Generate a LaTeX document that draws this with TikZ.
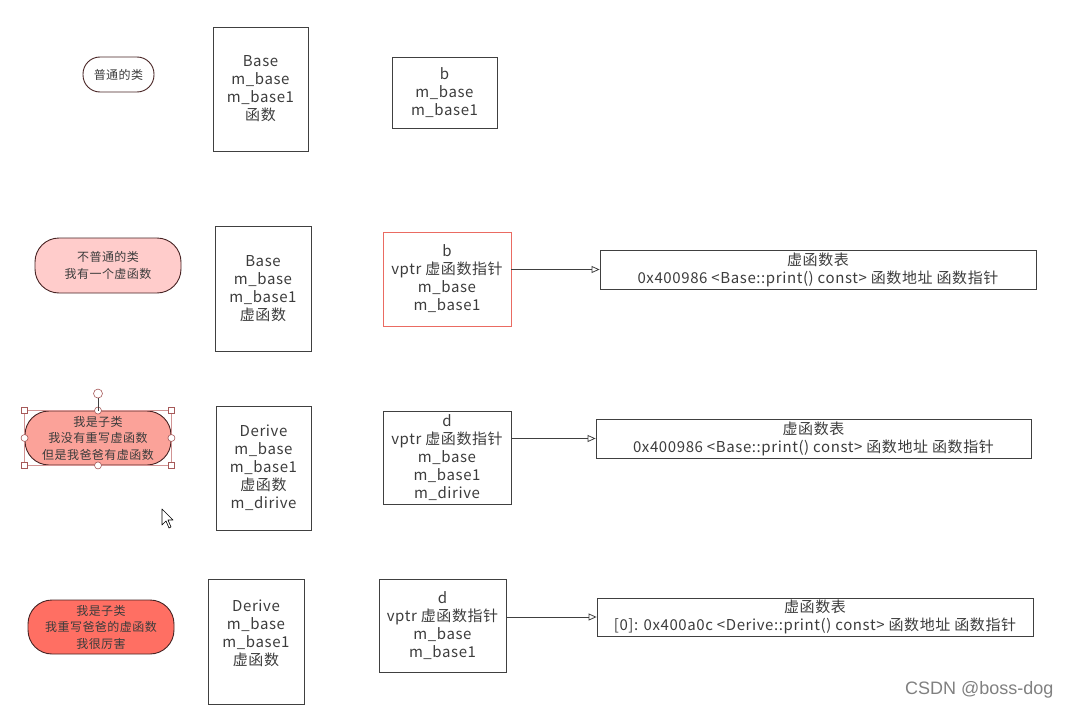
\documentclass[tikz,border=0pt]{standalone}
\usepackage{fontspec}
\setmainfont{Noto Sans CJK SC}[LetterSpace=4]
\newfontfamily\markfont{Liberation Sans}
\usepackage{tikz}
\usetikzlibrary{arrows.meta}
\definecolor{txt}{HTML}{3C3C3C}
\definecolor{edge}{HTML}{404040}
\definecolor{pinkA}{HTML}{FFCCCB}
\definecolor{pinkB}{HTML}{FBA299}
\definecolor{pinkC}{HTML}{FF6F63}
\definecolor{redline}{HTML}{EA6B62}
\tikzset{
  clsbox/.style={draw=edge, line width=0.8pt, align=center, inner sep=0pt, text=txt,
    font=\fontsize{15}{18}\selectfont},
  boxtext/.style={align=center, inner sep=0pt, text=txt, font=\fontsize{15}{18}\selectfont},
  pill/.style={draw=edge!80!red!70!black, line width=0.9pt, rounded corners=24pt, align=center,
    inner sep=0pt, text=txt, font=\fontsize{12}{16.5}\selectfont, minimum width=146pt, minimum height=54pt},
  vlink/.style={draw=edge, line width=0.8pt, -{Triangle[open, length=8pt, width=7pt]}},
  hsq/.style={draw=gray!70!red, fill=white, line width=0.6pt, inner sep=0pt, minimum size=6pt},
  hcirc/.style={draw=gray!70!red, fill=white, line width=0.6pt, circle, inner sep=0pt, minimum size=7pt}
}

\begin{document}
\begin{tikzpicture}[x=1pt, y=-1pt]
\useasboundingbox (0,0) rectangle (1072,709);

\begin{scope}[every node/.style={clsbox}]
  \node[minimum width=95pt, minimum height=124pt] (base1) at (260.5,89) {Base\\m\_base\\m\_base1\\函数};
  \node[minimum width=105pt, minimum height=71pt] (obj1) at (444.5,92.5) {b\\m\_base\\m\_base1};

  \node[minimum width=96pt, minimum height=125pt] (base2) at (263,288.5) {Base\\m\_base\\m\_base1\\虚函数};
  \node[draw=redline, minimum width=128pt, minimum height=94pt] (obj2) at (447,279) {b\\vptr 虚函数指针\\m\_base\\m\_base1};
  \node[minimum width=436pt, minimum height=39pt] (vt2) at (818,269.5) {虚函数表\\0x400986 <Base::print() const> 函数地址 函数指针};

  \node[minimum width=95pt, minimum height=124pt] (base3) at (263.5,468) {Derive\\m\_base\\m\_base1\\虚函数\\m\_dirive};
  \node[minimum width=128pt, minimum height=93pt] (obj3) at (447,457.5) {d\\vptr 虚函数指针\\m\_base\\m\_base1\\m\_dirive};
  \node[minimum width=435pt, minimum height=39pt] (vt3) at (813.5,438.5) {虚函数表\\0x400986 <Base::print() const> 函数地址 函数指针};

  \node[minimum width=96pt, minimum height=125pt] (base4) at (256,641.5) {};
  \node[minimum width=127pt, minimum height=93pt] (obj4) at (442.5,625.5) {d\\vptr 虚函数指针\\m\_base\\m\_base1};
  \node[minimum width=436pt, minimum height=38pt] (vt4) at (815,617) {虚函数表\\{[0]: 0x400a0c <Derive::print() const> 函数地址 函数指针}};
\end{scope}
\node[boxtext] (base4txt) at ([yshift=8pt]base4.center) {Derive\\m\_base\\m\_base1\\虚函数};

\node[pill, fill=white, rounded corners=17pt, minimum width=71pt, minimum height=35pt] (cls1) at (118.5,74.5) {普通的类};
\node[pill, fill=pinkA, minimum height=55pt] (cls2) at (108,265.5) {不普通的类\\我有一个虚函数};
\node[pill, fill=pinkB] (cls3) at (98,438) {我是子类\\我没有重写虚函数\\但是我爸爸有虚函数};
\node[pill, fill=pinkC] (cls4) at (101,627) {我是子类\\我重写爸爸的虚函数\\我很厉害};

% selection handles
\draw[gray!60!red!60, line width=0.4pt] (cls3.north west) rectangle (cls3.south east);
\foreach \a in {north west, north east, south west, south east}
  \node[hsq] at (cls3.\a) {};
\foreach \a in {north, south, east, west}
  \node[hcirc] at (cls3.\a) {};
\node[hcirc, minimum size=9pt] (rot) at ([yshift=17pt]cls3.north) {};
\draw[edge, line width=0.8pt] (rot) -- (cls3.north);

\draw[vlink] (obj2.east |- vt2.west) -- (vt2.west);
\draw[vlink] (obj3.east |- vt3.west) -- (vt3.west);
\draw[vlink] (obj4.east |- vt4.west) -- (vt4.west);

% mouse pointer
\draw[fill=white, line width=0.6pt, line join=round]
  (162,509) -- (162,525) -- (166,521) -- (169,528) -- (171,527) -- (168,520) -- (173,520) -- cycle;

\node[text=black!50, font=\markfont\fontsize{18}{20}\selectfont, anchor=east] (mark) at (1057,690) {CSDN @boss-dog};
\end{tikzpicture}
\end{document}
